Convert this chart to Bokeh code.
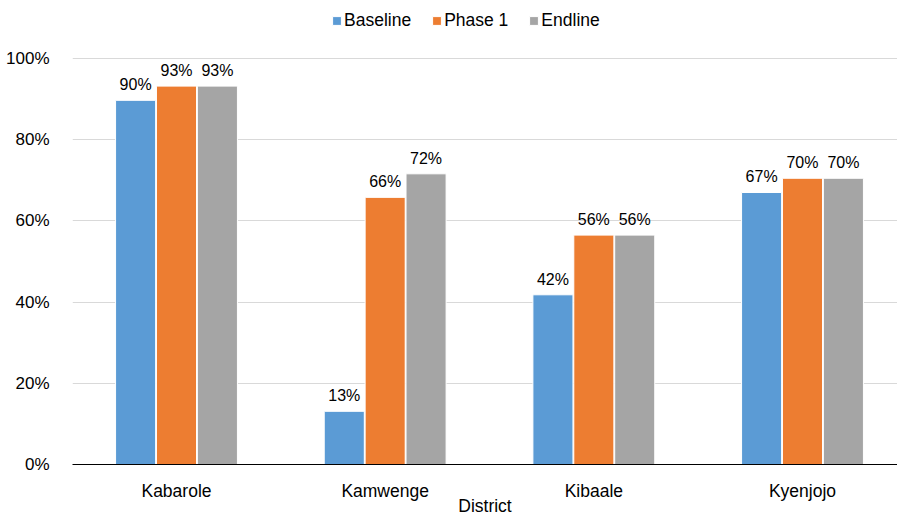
from bokeh.plotting import figure
from bokeh.models import (ColumnDataSource, Range1d, Legend, LegendItem,
                          LabelSet, FixedTicker)
from bokeh.core.properties import value
from bokeh.transform import dodge
from bokeh.embed import file_html
from bokeh.resources import INLINE

districts = ["Kabarole", "Kamwenge", "Kibaale", "Kyenjojo"]
baseline = [89.7, 13.1, 41.8, 67.0]
phase1 = [93.2, 65.8, 56.5, 70.5]
endline = [93.2, 71.6, 56.5, 70.5]
series_names = ["Baseline", "Phase 1", "Endline"]
colors = ["#5B9BD5", "#ED7D31", "#A5A5A5"]
y_ticks = [0, 20, 40, 60, 80, 100]
x_title = "District"

FONT = "Liberation Sans"
TXT = "#000000"

p = figure(width=897, height=518,
           x_range=Range1d(-0.4984, 3.4553), y_range=Range1d(0, 114.29),
           output_backend="svg", toolbar_location=None,
           min_border_left=72, min_border_right=0,
           min_border_top=0, min_border_bottom=54)

p.outline_line_color = None
p.xgrid.grid_line_color = None
p.ygrid.grid_line_color = "#D9D9D9"
p.ygrid.grid_line_width = 1
p.ygrid.ticker = FixedTicker(ticks=y_ticks)

p.yaxis.ticker = FixedTicker(ticks=y_ticks)
p.yaxis.major_label_overrides = {t: f"{t}%" for t in y_ticks}
p.yaxis.axis_line_color = None
p.yaxis.major_tick_line_color = None
p.yaxis.minor_tick_line_color = None
p.yaxis.major_label_standoff = 17
p.yaxis.major_label_text_font = FONT
p.yaxis.major_label_text_font_size = "17px"
p.yaxis.major_label_text_color = TXT

idx = list(range(len(districts)))
p.xaxis.ticker = FixedTicker(ticks=idx)
p.xaxis.major_label_overrides = {i: d for i, d in zip(idx, districts)}
p.xaxis.axis_line_color = "#000000"
p.xaxis.axis_line_width = 1.2
p.xaxis.major_tick_line_color = None
p.xaxis.minor_tick_line_color = None
p.xaxis.major_tick_out = 0
p.xaxis.major_label_standoff = 16
p.xaxis.major_label_text_font = FONT
p.xaxis.major_label_text_font_size = "17.5px"
p.xaxis.major_label_text_color = TXT
p.xaxis.axis_label = x_title
p.xaxis.axis_label_standoff = -8
p.xaxis.axis_label_text_font = FONT
p.xaxis.axis_label_text_font_size = "17.5px"
p.xaxis.axis_label_text_font_style = "normal"
p.xaxis.axis_label_text_color = TXT

bar_w = 0.192
offsets = [-0.196, 0.0, 0.196]
items = []
for name, vals, col, off in zip(series_names, [baseline, phase1, endline], colors, offsets):
    src = ColumnDataSource(dict(x=idx, y=vals, label=[f"{round(v)}%" for v in vals]))
    r = p.vbar(x=dodge("x", off, range=p.x_range), top="y", width=bar_w,
               source=src, fill_color=col, line_color="white", line_width=1)
    labels = LabelSet(x=dodge("x", off, range=p.x_range), y="y", text="label",
                      source=src, text_align="center", text_baseline="alphabetic",
                      y_offset=10, text_font=value(FONT), text_font_size="16px",
                      text_color=TXT)
    p.add_layout(labels)
    items.append(LegendItem(label=name, renderers=[r]))

legend = Legend(items=items, orientation="horizontal", location=(259, 433),
                glyph_width=11, glyph_height=11, label_standoff=2, spacing=20,
                padding=0, margin=0, border_line_color=None,
                background_fill_alpha=0, label_text_font=FONT,
                label_text_font_size="17.5px", label_text_color=TXT)
p.add_layout(legend, "center")

open("out.html", "w").write(file_html(p, INLINE))
